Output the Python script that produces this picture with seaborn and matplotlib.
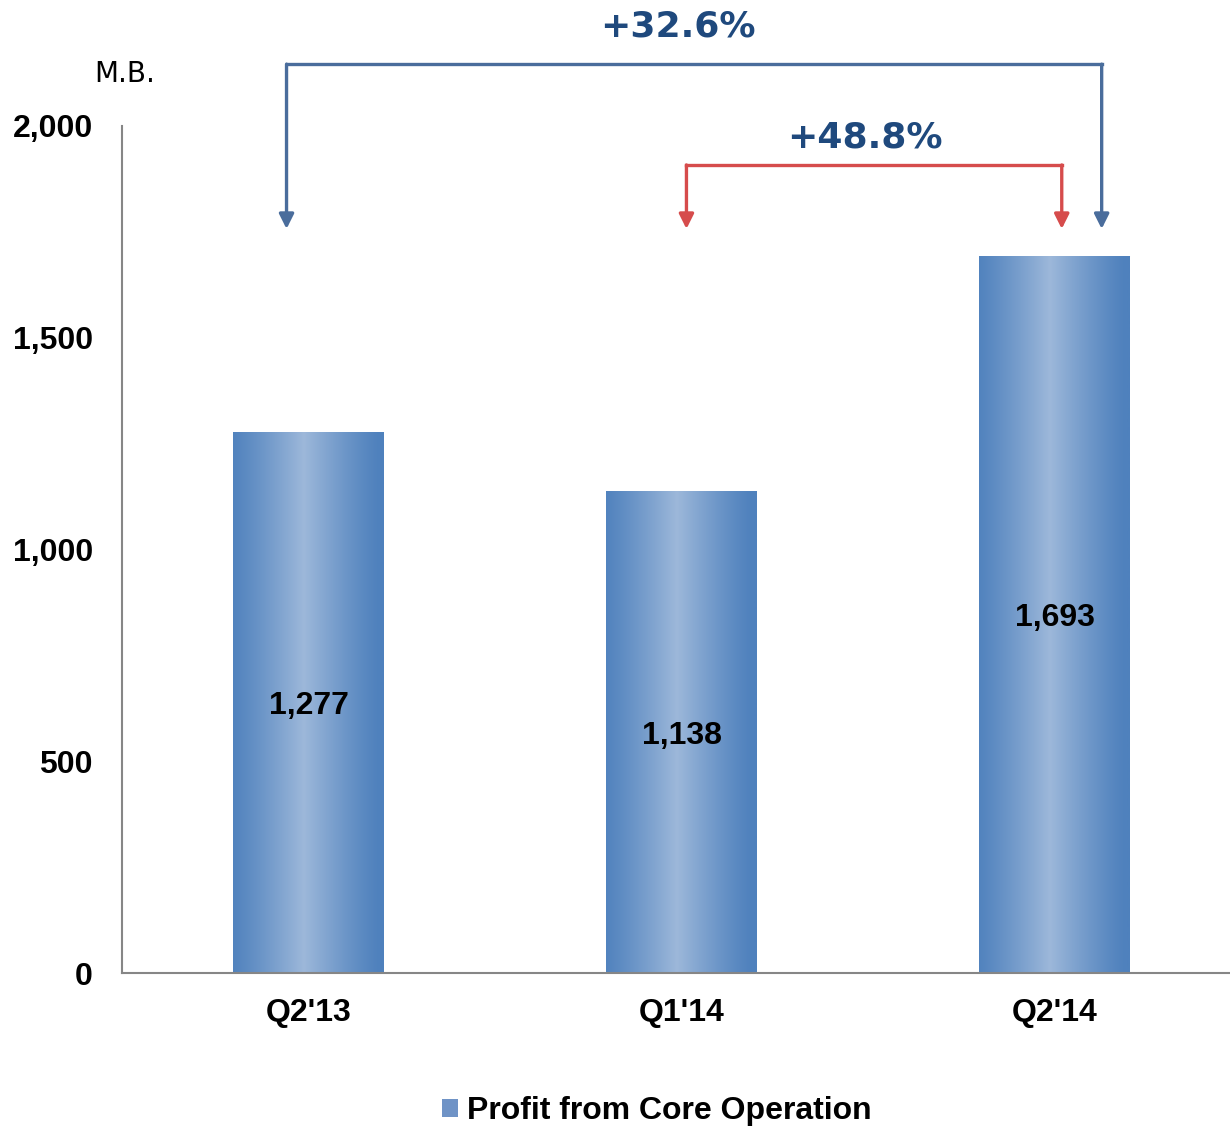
import numpy as np
import pandas as pd
import matplotlib
matplotlib.use('Agg')
import matplotlib.pyplot as plt
from matplotlib.patches import Patch
import seaborn as sns

# data
quarters = ["Q2'13", "Q1'14", "Q2'14"]
profit = [1277, 1138, 1693]
series_name = 'Profit from Core Operation'
y_ticks = [0, 500, 1000, 1500, 2000]
growth_yoy = '+32.6%'
growth_qoq = '+48.8%'

sns.set_style('white')
plt.rcParams['font.family'] = ['Liberation Sans', 'DejaVu Sans']
plt.rcParams['text.color'] = 'black'

df = pd.DataFrame({'quarter': quarters, 'profit': profit})

fig = plt.figure(figsize=(12.3, 11.27), dpi=100)
ax = fig.add_axes([0.0992, 0.1366, 0.9008, 0.7516])

sns.barplot(data=df, x='quarter', y='profit', color='#4F81BD', width=0.404,
            saturation=1, ax=ax)

# horizontal gradient on each bar (dark edges, light middle)
edge = np.array([79, 129, 189]) / 255
mid = np.array([157, 184, 218]) / 255
t = np.linspace(0, 1, 256)
w = np.clip(1 - np.abs(t - 0.47) / 0.5, 0, 1) ** 1.2
grad = edge[None, :] * (1 - w[:, None]) + mid[None, :] * w[:, None]
grad = grad[None, :, :]

for bar in ax.patches:
    x0, y0 = bar.get_x(), bar.get_y()
    bw, bh = bar.get_width(), bar.get_height()
    im = ax.imshow(grad, extent=[x0, x0 + bw, y0, y0 + bh], aspect='auto',
                   zorder=bar.get_zorder() + 0.1, interpolation='bicubic')
    im.set_clip_path(bar)

ax.set_xlim(-0.5, 2.47)
ax.set_ylim(0, 2000)
ax.set_yticks(y_ticks)
ax.set_yticklabels([f'{v:,}' for v in y_ticks])
ax.set_xlabel('')
ax.set_ylabel('')
ax.tick_params(axis='both', length=0, labelsize=23, labelcolor='black')
ax.tick_params(axis='y', pad=21)
ax.tick_params(axis='x', pad=18)
for lab in ax.get_xticklabels() + ax.get_yticklabels():
    lab.set_fontweight('bold')

for s in ['top', 'right']:
    ax.spines[s].set_visible(False)
for s in ['left', 'bottom']:
    ax.spines[s].set_color('#868686')
    ax.spines[s].set_linewidth(1.5)

labels = ax.bar_label(ax.containers[0], labels=[f'{v:,}' for v in profit],
                      label_type='center', fontsize=23, fontweight='bold',
                      color='black')
for lab in labels:
    lab.set_va('center_baseline')

# growth brackets
def bracket(x_left, x_right, y_top, y_tip, color, label, label_x, label_y):
    ax.plot([x_left, x_right], [y_top, y_top], color=color, lw=2.4,
            clip_on=False, solid_capstyle='projecting')
    for xx in (x_left, x_right):
        ax.annotate('', xy=(xx, y_tip), xytext=(xx, y_top),
                    arrowprops=dict(arrowstyle='-|>', color=color, lw=2.4,
                                    mutation_scale=22, shrinkA=0, shrinkB=0),
                    annotation_clip=False)
    ax.text(label_x, label_y, label, ha='center', va='center', fontsize=26,
            fontweight='bold', color='#1F497D', family='DejaVu Sans',
            clip_on=False)

bracket(0 - 0.059, 2 + 0.126, 2146, 1757, '#4A6D9C', growth_yoy, 0.989, 2236)
bracket(1 + 0.013, 2 + 0.019, 1908, 1757, '#D64C4C', growth_qoq, 1.491, 1973)

fig.text(125 / 1230, 1 - 74 / 1127, 'M.B.', ha='center', va='center',
         fontsize=20, family='DejaVu Sans')

handle = Patch(facecolor='#6F93C6', edgecolor='none')
fig.legend([handle], [series_name], loc='center', bbox_to_anchor=(0.534, 0.014),
           frameon=False, prop={'size': 23, 'weight': 'bold'},
           handlelength=0.5, handleheight=0.5, handletextpad=0.3,
           labelcolor='black')

fig.savefig('out.png', dpi=100)
